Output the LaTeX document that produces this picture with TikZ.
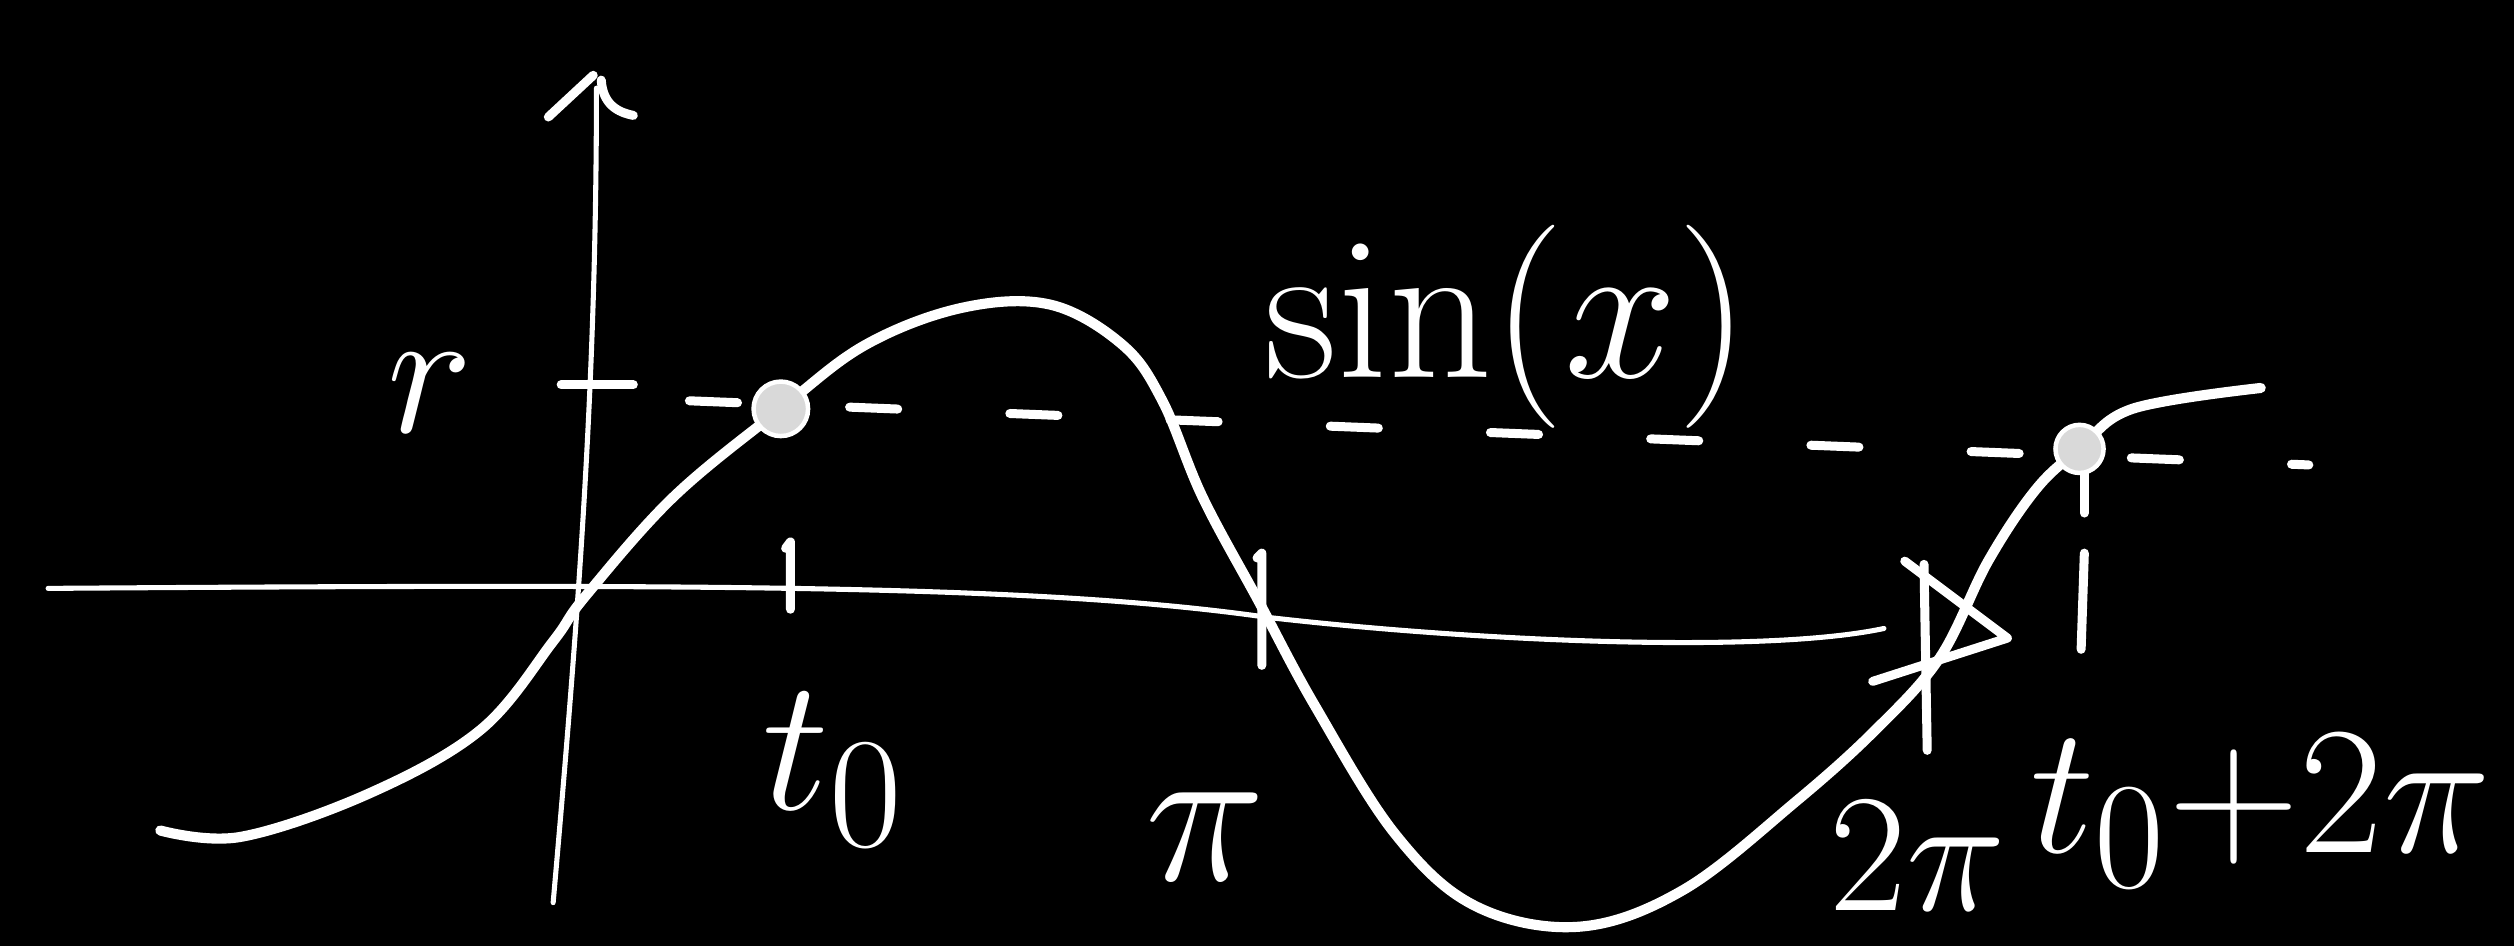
\documentclass[tikz,border=0pt]{standalone}
\usepackage{amsmath, amssymb}
\usepackage{tikz}
\usetikzlibrary{calc,positioning}

\begin{document}
\begin{tikzpicture}[chalk/.style={white,line width=1.6pt,line cap=round,line join=round},
        thinchalk/.style={white,line width=0.9pt,line cap=round,line join=round},
        lbl/.style={white,font=\fontsize{24.88}{30}\selectfont}]
        %Board
        \fill[black] (0,0) rectangle (15.68,5.90);
        \useasboundingbox (0,0) rectangle (15.68,5.90);
        \coordinate (yb) at (3.45,0.27);
        \coordinate (yt) at (3.72,5.35);
        \coordinate (xl) at (0.30,2.23);
        \coordinate (xr) at (11.75,1.98);
        \coordinate (p0) at (4.87,3.35);
        \coordinate (p1) at (12.97,3.10);
        %Axis
        \draw[thinchalk] (yb) .. controls (3.62,2.2) and (3.72,3.6) .. (yt);
        \draw[chalk] (3.42,5.17) -- (3.70,5.43);
        \draw[chalk] (3.75,5.40) .. controls (3.76,5.25) and (3.85,5.20) .. (3.95,5.18);
        \draw[thinchalk] (xl) .. controls (4.5,2.26) and (6.5,2.25) .. (7.9,2.05)
                .. controls (9.2,1.9) and (11.0,1.82) .. (xr);
        \draw[chalk] (11.88,2.40) -- (12.52,1.92) -- (11.68,1.65);
        %Ticks
        \draw[chalk] (3.50,3.50) -- (3.95,3.50);
        \draw[chalk] (4.90,2.48) -- (4.93,2.52) -- (4.93,2.10);
        \draw[chalk] (7.84,2.42) -- (7.87,2.45) -- (7.87,1.75);
        \draw[chalk] (12.00,2.38) -- (12.02,1.22);
        \draw[chalk] (13.00,2.95) -- (13.00,2.70);
        \draw[chalk] (13.00,2.45) -- (12.98,1.85);
        %Dashed level
        \draw[chalk,dash pattern=on 0.3cm off 0.7cm] (4.30,3.40) -- (14.40,3.00);
        %Sine
        \draw[chalk,line width=1.8pt] plot[smooth,tension=0.6] coordinates {(1.00,0.72) (1.50,0.68) (2.30,0.95) (3.00,1.35)
                (3.45,1.90) (3.65,2.18) (4.20,2.80) (p0) (5.40,3.75) (6.00,3.98) (6.55,4.00) (7.00,3.75)
                (7.25,3.40) (7.50,2.80) (7.85,2.15) (8.20,1.50) (8.70,0.70) (9.20,0.25) (9.85,0.12)
                (10.50,0.35) (11.20,0.90) (11.70,1.35) (12.10,1.80) (12.40,2.40) (12.70,2.85) (p1)
                (13.30,3.35) (14.10,3.48)};
        %Points
        \draw[fill=gray!30, thick,draw=white] (p0) circle(0.17cm);
        \draw[fill=gray!30, thick,draw=white] (p1) circle(0.15cm);
        %Labels
        \node[lbl] (r) at (2.68,3.45) {\scalebox{1.3}{$r$}};
        \node[lbl] (t0) at (5.20,1.10) {\scalebox{1.35}{$t_0$}};
        \node[lbl] (pi) at (7.52,0.68) {\scalebox{1.45}{$\pi$}};
        \node[lbl] (tpi) at (11.96,0.56) {\scalebox{1.2}{$2\pi$}};
        \node[lbl] (t2pi) at (14.10,0.84) {\scalebox{1.3}{$t_0{+}2\pi$}};
        \node[lbl] (f) at (9.40,3.86) {\scalebox{1.45}{$\sin(x)$}};
      \end{tikzpicture}
\end{document}
